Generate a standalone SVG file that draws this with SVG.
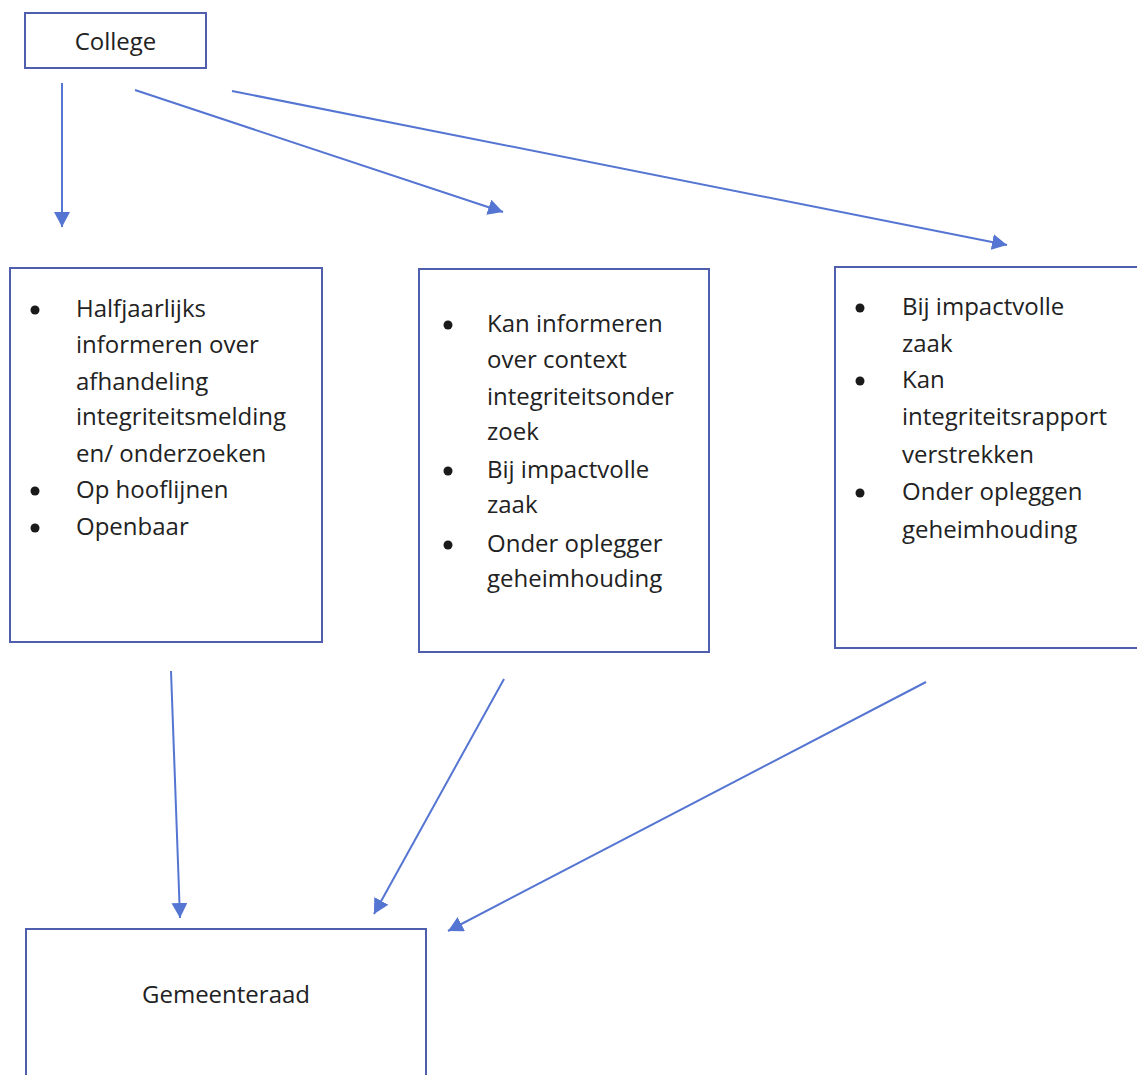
<svg xmlns="http://www.w3.org/2000/svg" width="1137" height="1075" viewBox="0 0 1137 1075">
<style>
.box{fill:#ffffff;stroke:#4f5fae;stroke-width:2}
.conn{stroke:#5575d2;stroke-width:2;fill:none}
.t{font-family:"Open Sans","Noto Sans",sans-serif;font-size:24px;fill:#222222}
.b{fill:#1a1a1a}
</style>
<defs>
<marker id="ah" markerUnits="userSpaceOnUse" markerWidth="16" markerHeight="16" refX="15" refY="8" orient="auto">
<path d="M0,0 L15,8 L0,16 Z" fill="#5575d2"/>
</marker>
</defs>
<rect width="1137" height="1075" fill="#ffffff"/>
<g id="college">
<rect class="box" x="25" y="13" width="181" height="55"/>
<text class="t" x="115.5" y="50" text-anchor="middle">College</text>
</g>
<g id="box1">
<rect class="box" x="10" y="268" width="312" height="374"/>
<circle class="b" cx="35" cy="310" r="4.5"/>
<circle class="b" cx="35" cy="491" r="4.5"/>
<circle class="b" cx="35" cy="528" r="4.5"/>
<text class="t" x="76" y="317">Halfjaarlijks</text>
<text class="t" x="76" y="353">informeren over</text>
<text class="t" x="76" y="390">afhandeling</text>
<text class="t" x="76" y="425">integriteitsmelding</text>
<text class="t" x="76" y="462">en/ onderzoeken</text>
<text class="t" x="76" y="498">Op hooflijnen</text>
<text class="t" x="76" y="535">Openbaar</text>
</g>
<g id="box2">
<rect class="box" x="419" y="269" width="290" height="383"/>
<circle class="b" cx="448" cy="325" r="4.5"/>
<circle class="b" cx="448" cy="471" r="4.5"/>
<circle class="b" cx="448" cy="545" r="4.5"/>
<text class="t" x="487" y="332">Kan informeren</text>
<text class="t" x="487" y="368">over context</text>
<text class="t" x="487" y="405">integriteitsonder</text>
<text class="t" x="487" y="440">zoek</text>
<text class="t" x="487" y="478">Bij impactvolle</text>
<text class="t" x="487" y="513">zaak</text>
<text class="t" x="487" y="552">Onder oplegger</text>
<text class="t" x="487" y="587">geheimhouding</text>
</g>
<g id="box3">
<rect class="box" x="835" y="267" width="320" height="381"/>
<circle class="b" cx="860" cy="308" r="4.5"/>
<circle class="b" cx="860" cy="381" r="4.5"/>
<circle class="b" cx="860" cy="493" r="4.5"/>
<text class="t" x="902" y="315">Bij impactvolle</text>
<text class="t" x="902" y="352">zaak</text>
<text class="t" x="902" y="388">Kan</text>
<text class="t" x="902" y="425">integriteitsrapport</text>
<text class="t" x="902" y="463">verstrekken</text>
<text class="t" x="902" y="500">Onder opleggen</text>
<text class="t" x="902" y="538">geheimhouding</text>
</g>
<g id="gemeenteraad">
<rect class="box" x="26" y="929" width="400" height="170"/>
<text class="t" x="226" y="1003" text-anchor="middle">Gemeenteraad</text>
</g>
<g id="connectors">
<line class="conn" x1="62" y1="83" x2="62" y2="227" marker-end="url(#ah)"/>
<line class="conn" x1="135" y1="90" x2="503" y2="212" marker-end="url(#ah)"/>
<line class="conn" x1="232" y1="91" x2="1007" y2="245" marker-end="url(#ah)"/>
<line class="conn" x1="171" y1="671" x2="180" y2="918" marker-end="url(#ah)"/>
<line class="conn" x1="504" y1="679" x2="374" y2="914" marker-end="url(#ah)"/>
<line class="conn" x1="926" y1="682" x2="448" y2="931" marker-end="url(#ah)"/>
</g>
</svg>
